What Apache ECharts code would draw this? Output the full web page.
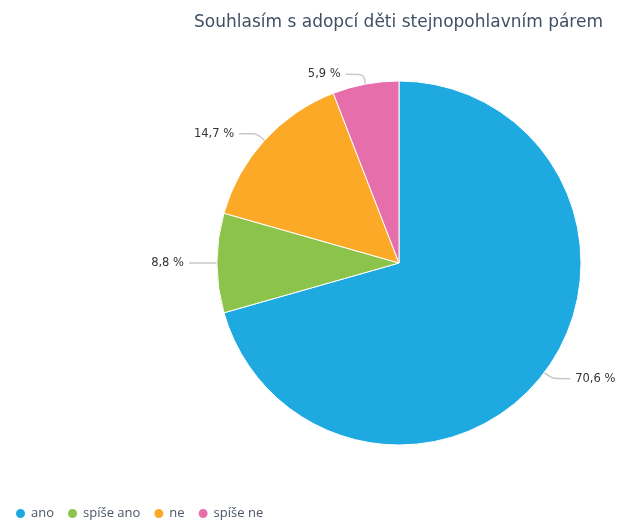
<!DOCTYPE html>
<html>
<head>
<meta charset="utf-8">
<script src="https://cdn.jsdelivr.net/npm/echarts@6/dist/echarts.min.js"></script>
<style>
  html, body { margin: 0; padding: 0; background: #fff; }
  #chart { width: 620px; height: 524px; }
</style>
</head>
<body>
<div id="chart"></div>
<script>
// odpovědi respondentů (počty)
var categories = ['ano', 'spíše ano', 'ne', 'spíše ne'];
var counts = [24, 3, 5, 2];
var colors = ['#1fa9e1', '#8cc34a', '#fba926', '#e66fab'];

var chart = echarts.init(document.getElementById('chart'));

var pieData = categories.map(function (name, i) {
  return { name: name, value: counts[i] };
});

chart.setOption({
  color: colors,
  title: {
    text: 'Souhlasím s adopcí děti stejnopohlavním párem',
    right: 12,
    top: 9,
    textStyle: {
      fontFamily: '"DejaVu Sans", sans-serif',
      fontSize: 17,
      fontWeight: 'normal',
      color: '#3f5066'
    }
  },
  legend: {
    data: categories,
    left: 9,
    top: 502,
    icon: 'circle',
    itemWidth: 11,
    itemHeight: 11,
    itemGap: 12,
    textStyle: {
      fontFamily: '"Open Sans", sans-serif',
      fontSize: 13,
      color: '#4a5566'
    }
  },
  series: [
    {
      type: 'pie',
      center: [399, 263],
      radius: 182,
      startAngle: 90,
      clockwise: true,
      data: pieData,
      itemStyle: {
        borderColor: '#fff',
        borderWidth: 1
      },
      label: {
        show: true,
        overflow: 'none',
        fontFamily: '"DejaVu Sans", sans-serif',
        fontSize: 11.5,
        color: '#333',
        formatter: function (p) {
          return p.percent.toFixed(1).replace('.', ',') + ' %';
        }
      },
      labelLine: {
        show: true,
        length: 10,
        length2: 18,
        smooth: 0.3,
        lineStyle: { color: '#c8c8c8', width: 1.5 }
      },
      emphasis: { scale: false }
    }
  ]
});
</script>
</body>
</html>
